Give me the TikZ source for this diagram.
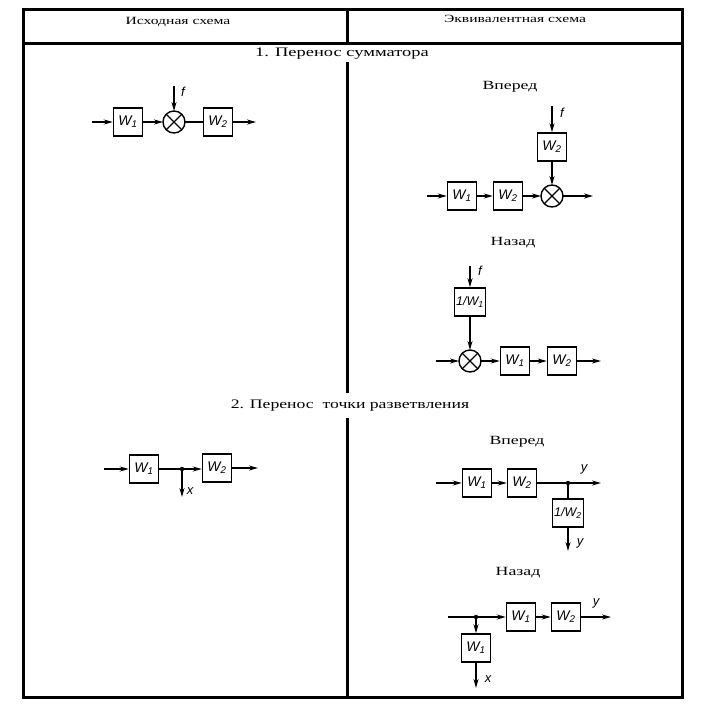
\documentclass[tikz,border=0pt]{standalone}
\usepackage{fontspec}
\setmainfont{Liberation Serif}
\setsansfont{Liberation Sans}
\usepackage{graphicx}
\usetikzlibrary{arrows.meta}
\newcommand\hstr[1]{\scalebox{1.42}[1]{#1}}
\newcommand\Wsub[1]{W\textsubscript{#1}}
\begin{document}
\begin{tikzpicture}[x=1pt,y=-1pt,
 blk/.style={draw,line width=1.5pt,minimum width=29pt,minimum height=28pt,inner sep=0pt,font=\sffamily\itshape\fontsize{14}{14}\selectfont},
 invblk/.style={blk,minimum width=31pt,font=\sffamily\itshape\fontsize{12.5}{12.5}\selectfont},
 sumn/.style={draw,circle,line width=1.4pt,minimum size=22pt,inner sep=0pt,outer sep=0pt},
 arr/.style={line width=1.3pt,-{Stealth[length=9pt,width=5pt]}},
 ln/.style={line width=1.3pt},
 dotn/.style={circle,fill,inner sep=0pt,minimum size=4.5pt},
 lbl/.style={font=\sffamily\itshape\fontsize{13}{13}\selectfont,inner sep=0pt},
 hdr/.style={font=\fontsize{11}{11}\selectfont,inner sep=0pt},
 ttl/.style={font=\fontsize{13}{13}\selectfont,inner sep=0pt},
 subt/.style={font=\fontsize{12.5}{12.5}\selectfont,inner sep=0pt},
 frm/.style={line width=3pt}
]
\useasboundingbox (0,0) rectangle (706,715);
% frame
\draw[frm] (23,9) rectangle (682,697);
\draw[frm] (23,43) -- (682,43);
\draw[frm] (347,9) -- (347,44);
\draw[frm] (347,62) -- (347,393);
\draw[frm] (347,418) -- (347,697);
% headers
\node[hdr] (h1) at (178,22) {\hstr{Исходная схема}};
\node[hdr] (h2) at (515,19) {\hstr{Эквивалентная схема}};
\node[ttl] (t1) at (342,54) {\hstr{1. Перенос сумматора}};
\node[ttl] (t2) at (350,406) {\scalebox{1.36}[1]{2. Перенос\ \ точки разветвления}};
% ---- left, section 1
\coordinate (a1in) at (92,122);
\node[blk] (a1w1) at (128,122) {\Wsub{1}};
\node[sumn] (a1s) at (174,122) {};
\draw[ln] (a1s.45) -- (a1s.225) (a1s.135) -- (a1s.315);
\node[blk] (a1w2) at (218,122) {\Wsub{2}};
\coordinate (a1out) at (256,122);
\coordinate (a1f) at (174,86);
\node[lbl] (a1fl) at (183,92) {f};
\draw[arr] (a1in) -- (a1w1);
\draw[arr] (a1w1) -- (a1s);
\draw[ln] (a1s) -- (a1w2);
\draw[arr] (a1w2) -- (a1out);
\draw[arr] (a1f) -- (a1s);
% ---- right, section 1, forward
\node[subt] (s1) at (510,87) {\hstr{Вперед}};
\coordinate (b1f) at (552,106);
\node[lbl] (b1fl) at (562,113) {f};
\node[blk] (b1w2t) at (552,147) {\Wsub{2}};
\node[sumn] (b1s) at (552,196) {};
\draw[ln] (b1s.45) -- (b1s.225) (b1s.135) -- (b1s.315);
\coordinate (b1in) at (427,196);
\node[blk] (b1w1) at (462,196) {\Wsub{1}};
\node[blk] (b1w2) at (508,196) {\Wsub{2}};
\coordinate (b1out) at (593,196);
\draw[arr] (b1f) -- (b1w2t);
\draw[arr] (b1w2t) -- (b1s);
\draw[arr] (b1in) -- (b1w1);
\draw[arr] (b1w1) -- (b1w2);
\draw[arr] (b1w2) -- (b1s);
\draw[arr] (b1s) -- (b1out);
% ---- right, section 1, backward
\node[subt] (s2) at (513,243) {\hstr{Назад}};
\coordinate (c1f) at (470,266);
\node[lbl] (c1fl) at (480,271) {f};
\node[invblk] (c1inv) at (470,302) {1/\Wsub{1}};
\node[sumn] (c1s) at (470,361) {};
\draw[ln] (c1s.45) -- (c1s.225) (c1s.135) -- (c1s.315);
\coordinate (c1in) at (436,361);
\node[blk] (c1w1) at (515,361) {\Wsub{1}};
\node[blk] (c1w2) at (562,361) {\Wsub{2}};
\coordinate (c1out) at (601,361);
\draw[arr] (c1f) -- (c1inv);
\draw[arr] (c1inv) -- (c1s);
\draw[arr] (c1in) -- (c1s);
\draw[arr] (c1s) -- (c1w1);
\draw[arr] (c1w1) -- (c1w2);
\draw[arr] (c1w2) -- (c1out);
% ---- left, section 2
\coordinate (a2in) at (104,469);
\node[blk] (a2w1) at (144,469) {\Wsub{1}};
\node[dotn] (a2d) at (182,469) {};
\node[blk] (a2w2) at (217,468) {\Wsub{2}};
\coordinate (a2out) at (258,468);
\coordinate (a2x) at (182,497);
\node[lbl] (a2xl) at (190,491) {x};
\draw[arr] (a2in) -- (a2w1);
\draw[ln] (a2w1) -- (a2d);
\draw[arr] (a2d) -- (a2w2.west |- a2d);
\draw[arr] (a2w2) -- (a2out);
\draw[arr] (a2d) -- (a2x);
% ---- right, section 2, forward
\node[subt] (s3) at (517,442) {\hstr{Вперед}};
\coordinate (b2in) at (436,483);
\node[blk] (b2w1) at (477,483) {\Wsub{1}};
\node[blk] (b2w2) at (522,483) {\Wsub{2}};
\node[dotn] (b2d) at (568,483) {};
\coordinate (b2out) at (601,483);
\node[lbl] (b2yl) at (584,469) {y};
\node[invblk] (b2inv) at (568,513) {1/\Wsub{2}};
\coordinate (b2y) at (568,551);
\node[lbl] (b2yl2) at (580,543) {y};
\draw[arr] (b2in) -- (b2w1);
\draw[arr] (b2w1) -- (b2w2);
\draw[ln] (b2w2) -- (b2d);
\draw[arr] (b2d) -- (b2out);
\draw[ln] (b2d) -- (b2inv);
\draw[arr] (b2inv) -- (b2y);
% ---- right, section 2, backward
\node[subt] (s4) at (518,573) {\hstr{Назад}};
\coordinate (c2in) at (448,617);
\node[dotn] (c2d) at (476,617) {};
\node[blk] (c2w1) at (521,617) {\Wsub{1}};
\node[blk] (c2w2) at (566,617) {\Wsub{2}};
\coordinate (c2out) at (611,617);
\node[lbl] (c2yl) at (596,603) {y};
\node[blk] (c2wb) at (476,648) {\Wsub{1}};
\coordinate (c2x) at (476,688);
\node[lbl] (c2xl) at (488,679) {x};
\draw[ln] (c2in) -- (c2d);
\draw[arr] (c2d) -- (c2w1);
\draw[arr] (c2w1) -- (c2w2);
\draw[arr] (c2w2) -- (c2out);
\draw[arr] (c2d) -- (c2wb);
\draw[arr] (c2wb) -- (c2x);
\end{tikzpicture}
\end{document}
